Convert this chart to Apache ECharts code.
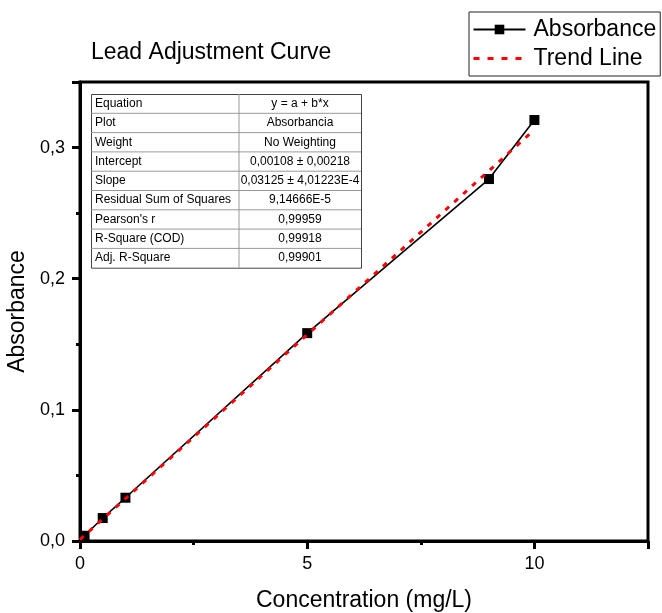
<!DOCTYPE html>
<html>
<head>
<meta charset="utf-8">
<script src="https://cdn.jsdelivr.net/npm/echarts@6/dist/echarts.min.js"></script>
<style>
html, body { margin: 0; padding: 0; background: #fff; }
#main { width: 662px; height: 613px; }
</style>
</head>
<body>
<div id="main"></div>
<script>
// 数据
var concX = [0.1, 0.5, 1, 5, 9, 10];
var absY = [0.004, 0.0175, 0.033, 0.1585, 0.276, 0.321];
var trendX = [0, 10];
var trendY = [0.00108, 0.31358];

var tableKeys = ['Equation', 'Plot', 'Weight', 'Intercept', 'Slope', 'Residual Sum of Squares', "Pearson's r", 'R-Square (COD)', 'Adj. R-Square'];
var tableVals = ['y = a + b*x', 'Absorbancia', 'No Weighting', '0,00108 \u00b1 0,00218', '0,03125 \u00b1 4,01223E-4', '9,14666E-5', '0,99959', '0,99918', '0,99901'];

var FONT = "'Liberation Sans', Arial, sans-serif";

function pairs(xs, ys) {
    var out = [];
    for (var i = 0; i < xs.length; i++) {
        out.push([xs[i], ys[i]]);
    }
    return out;
}

// 表格
var tX = 91, tY = 94, tW = 270, tSplit = 148, rowH = 19.3;
var tableGraphic = [];
tableGraphic.push({
    type: 'rect', left: tX, top: tY, z: 10,
    shape: {width: tW, height: rowH * tableKeys.length},
    style: {fill: '#fff', stroke: '#444', lineWidth: 1}
});
tableGraphic.push({
    type: 'line', z: 11,
    shape: {x1: tX + tSplit, y1: tY, x2: tX + tSplit, y2: tY + rowH * tableKeys.length},
    style: {stroke: '#999', lineWidth: 1}
});
for (var r = 0; r < tableKeys.length; r++) {
    if (r > 0) {
        tableGraphic.push({
            type: 'line', z: 11,
            shape: {x1: tX, y1: tY + r * rowH, x2: tX + tW, y2: tY + r * rowH},
            style: {stroke: '#999', lineWidth: 1}
        });
    }
    tableGraphic.push({
        type: 'text', z: 12, x: tX + 4, y: tY + r * rowH + rowH / 2,
        style: {text: tableKeys[r], fill: '#000', font: '12px ' + FONT, verticalAlign: 'middle'}
    });
    tableGraphic.push({
        type: 'text', z: 12, x: tX + tSplit + (tW - tSplit) / 2, y: tY + r * rowH + rowH / 2,
        style: {text: tableVals[r], fill: '#000', font: '12px ' + FONT, align: 'center', verticalAlign: 'middle'}
    });
}

var option = {
    backgroundColor: '#fff',
    animation: false,
    title: {
        text: 'Lead Adjustment Curve',
        left: 86, top: 36,
        textStyle: {fontFamily: FONT, fontSize: 23, fontWeight: 'normal', color: '#000'}
    },
    legend: {
        data: [
            {name: 'Absorbance', lineStyle: {width: 2}},
            {name: 'Trend Line', itemStyle: {opacity: 0}, lineStyle: {width: 3, type: [6, 8]}}
        ],
        orient: 'vertical',
        left: 469, top: 12,
        itemWidth: 52, itemHeight: 12, itemGap: 6,
        padding: [6, 4, 6, 3],
        borderColor: '#222', borderWidth: 1,
        textStyle: {fontFamily: FONT, fontSize: 23, color: '#000', padding: [0, 0, 0, 3]}
    },
    grid: {
        left: 80, top: 82, right: 14, bottom: 72,
        outerBoundsMode: 'none',
        show: true, borderColor: '#000', borderWidth: 3
    },
    xAxis: {
        type: 'value',
        min: 0, max: 12.5, interval: 5,
        name: 'Concentration (mg/L)',
        nameLocation: 'middle', nameGap: 48,
        nameTextStyle: {fontFamily: FONT, fontSize: 23, color: '#000'},
        axisLine: {show: true, lineStyle: {color: '#000', width: 3}},
        axisTick: {show: true, length: 8, lineStyle: {color: '#000', width: 3}},
        minorTick: {show: true, splitNumber: 2, length: 4, lineStyle: {color: '#000', width: 3}},
        splitLine: {show: false},
        axisLabel: {
            fontFamily: FONT, fontSize: 18, color: '#000', margin: 14,
            showMaxLabel: false,
            formatter: function (v) { return String(v); }
        }
    },
    yAxis: {
        type: 'value',
        min: 0, max: 0.35, interval: 0.1,
        name: 'Absorbance',
        nameLocation: 'middle', nameGap: 44,
        nameTextStyle: {fontFamily: FONT, fontSize: 23, color: '#000'},
        axisLine: {show: true, lineStyle: {color: '#000', width: 3}},
        axisTick: {show: true, length: 8, lineStyle: {color: '#000', width: 3}},
        minorTick: {show: true, splitNumber: 2, length: 4, lineStyle: {color: '#000', width: 3}},
        splitLine: {show: false},
        axisLabel: {
            fontFamily: FONT, fontSize: 18, color: '#000', margin: 15,
            showMaxLabel: false,
            formatter: function (v) { return v.toFixed(1).replace('.', ','); }
        }
    },
    graphic: tableGraphic,
    series: [{
        name: 'Absorbance',
        type: 'line',
        data: pairs(concX, absY),
        symbol: 'rect', symbolSize: 10,
        itemStyle: {color: '#000'},
        lineStyle: {color: '#000', width: 1.6},
        z: 3
    }, {
        name: 'Trend Line',
        type: 'line',
        data: pairs(trendX, trendY),
        showSymbol: false, symbol: 'none',
        itemStyle: {color: '#ff0000'},
        lineStyle: {color: '#ff0000', width: 3, type: [5, 7]},
        z: 4
    }]
};

var myChart = echarts.init(document.getElementById('main'));
myChart.setOption(option);
</script>
</body>
</html>
